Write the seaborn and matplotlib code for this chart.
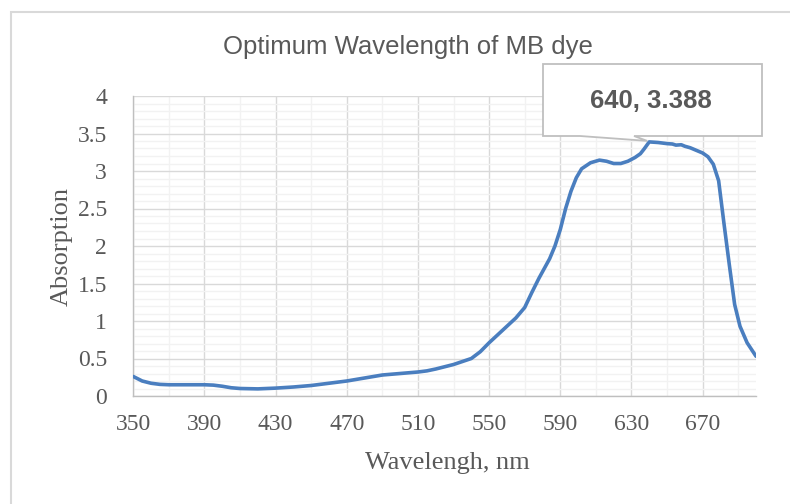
import matplotlib
matplotlib.use("Agg")
import matplotlib.pyplot as plt
import seaborn as sns
import pandas as pd
from matplotlib.patches import Polygon, Rectangle
from matplotlib.ticker import MultipleLocator

# ---- data ----
wavelength = [350, 355, 360, 365, 370, 380, 390, 395, 400, 405, 410, 420, 430,
              440, 450, 460, 470, 480, 490, 500, 510, 515, 520, 525, 530, 535,
              540, 545, 550, 555, 560, 565, 570, 574, 578, 581, 584, 587, 590,
              593, 596, 599, 602, 607, 612, 616, 620, 624, 628, 632, 635, 637,
              640, 645, 650, 653, 655, 658, 660, 663, 665, 668, 670, 673, 676,
              679, 682, 685, 688, 691, 695, 700]
absorption = [0.26, 0.20, 0.17, 0.155, 0.15, 0.15, 0.15, 0.145, 0.13, 0.11, 0.10,
              0.095, 0.105, 0.12, 0.14, 0.17, 0.20, 0.24, 0.28, 0.30, 0.32, 0.335,
              0.36, 0.39, 0.42, 0.46, 0.50, 0.59, 0.71, 0.82, 0.93, 1.04, 1.18,
              1.38, 1.57, 1.70, 1.83, 2.00, 2.22, 2.50, 2.73, 2.91, 3.03, 3.11,
              3.145, 3.13, 3.10, 3.10, 3.13, 3.18, 3.23, 3.29, 3.388, 3.38, 3.365,
              3.36, 3.345, 3.35, 3.33, 3.31, 3.29, 3.26, 3.24, 3.19, 3.09, 2.87,
              2.30, 1.75, 1.22, 0.93, 0.71, 0.53]
peak_wavelength = 640
peak_absorption = 3.388

title = "Optimum Wavelength of MB dye"
xlabel = "Wavelengh, nm"
ylabel = "Absorption"

df = pd.DataFrame({"Wavelength": wavelength, "Absorption": absorption})

sns.set_theme(style="white")
W, H = 790, 504
fig = plt.figure(figsize=(W / 100, H / 100), dpi=100)
L, R, B, T = 133.3, 756, 396, 96
ax = fig.add_axes([L / W, 1 - B / H, (R - L) / W, (B - T) / H])

sns.lineplot(data=df, x="Wavelength", y="Absorption", ax=ax,
             color="#4A7EBF", linewidth=2.6, zorder=3)

ax.set_xlim(350, 700)
ax.set_ylim(0, 4)
ax.yaxis.set_minor_locator(MultipleLocator(0.1))
ax.set_xticks([v for v in range(350, 701, 40)])
ax.set_xticks([v for v in range(370, 701, 20) if (v - 350) % 40 != 0], minor=True)

ax.grid(which="major", color="#D9D9D9", linewidth=1.0, zorder=0)
ax.grid(which="minor", color="#F2F2F2", linewidth=1.0, zorder=0)
ax.set_axisbelow(True)

for s in ["top", "right"]:
    ax.spines[s].set_visible(False)
for s in ["left", "bottom"]:
    ax.spines[s].set_color("#BFBFBF")
    ax.spines[s].set_linewidth(1.0)

serif = ["Liberation Serif", "DejaVu Serif"]
ax.tick_params(axis="both", which="major", direction="out", length=5, width=1,
               color="#BFBFBF", labelcolor="#595959", labelsize=17)
ax.tick_params(axis="both", which="minor", length=0)
ax.tick_params(axis="x", pad=8)
ax.tick_params(axis="y", pad=14)
for lab in ax.get_xticklabels():
    lab.set_family(serif)
ax.set_yticks([0, 0.5, 1, 1.5, 2, 2.5, 3, 3.5, 4])
ax.set_yticklabels(["0", "0.5", "1", "1.5", "2", "2.5", "3", "3.5", "4"],
                   family=serif, fontsize=17, color="#595959")

ax.set_xlabel("")
ax.set_ylabel("")
fig.text(447 / W, 1 - 463 / H, xlabel, ha="center", va="center",
         family=serif, fontsize=19, color="#595959")
fig.text(62 / W, 1 - 246 / H, ylabel, ha="center", va="center", rotation=90,
         family=serif, fontsize=19, color="#595959")
fig.text(408 / W, 1 - 47 / H, title, ha="center", va="center",
         family=["Liberation Sans", "DejaVu Sans"], fontsize=18.5, color="#595959")

# chart-area border (extends past the right and bottom edges)
fig.patches.append(Rectangle((11 / W, -0.1), 1.1, 1 - 12 / H + 0.1,
                             transform=fig.transFigure, fill=False,
                             edgecolor="#D9D9D9", linewidth=1.5))

# data callout
fig.canvas.draw()
tx, ty = ax.transData.transform((peak_wavelength, peak_absorption))
tip = (tx / W - 2 / W, ty / H + 1 / H)
def P(x, y):
    return (x / W, 1 - y / H)
verts = [P(543, 64), P(762, 64), P(762, 136), P(634, 136), tip, P(580, 136), P(543, 136)]
fig.patches.append(Polygon(verts, closed=True, transform=fig.transFigure,
                           facecolor="white", edgecolor="#BFBFBF", linewidth=1.3,
                           zorder=5))
fig.text(651 / W, 1 - 101 / H, f"{peak_wavelength}, {peak_absorption}",
         ha="center", va="center", fontsize=18.5, fontweight="bold",
         family=["Liberation Sans", "DejaVu Sans"], color="#595959", zorder=6)

fig.savefig("out.png", dpi=100, facecolor="white")
